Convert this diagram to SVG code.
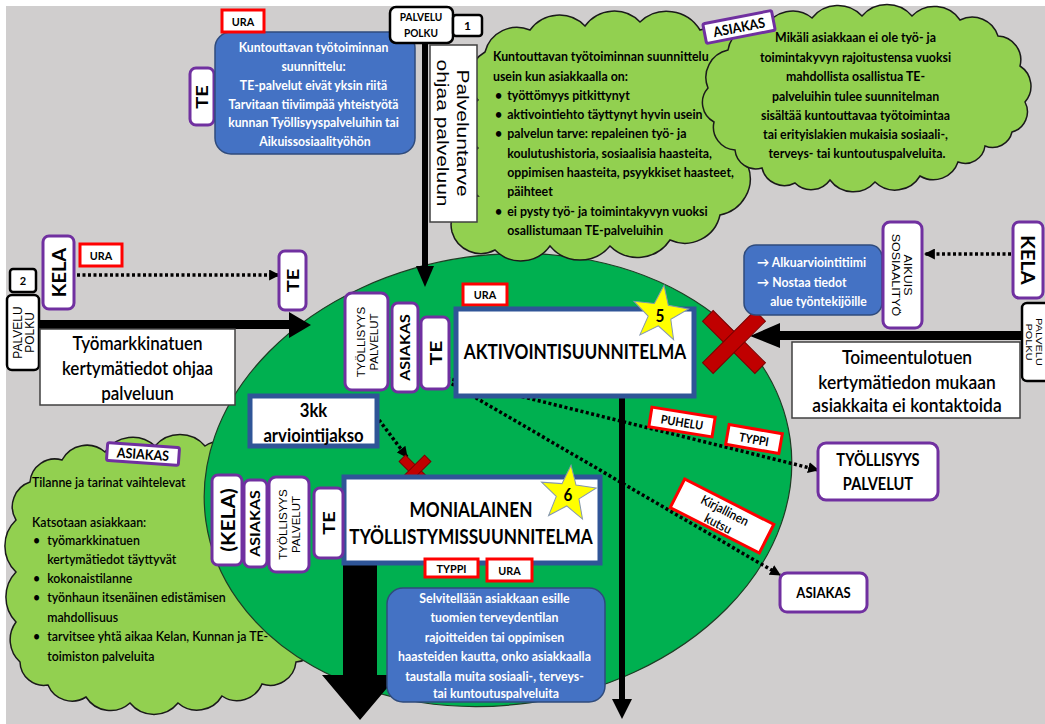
<svg xmlns="http://www.w3.org/2000/svg" width="1045" height="724" viewBox="0 0 1045 724">
<defs>
<style>
.bg{fill:#d0cece}
.cloud{fill:#92d050;stroke:#1a1a1a;stroke-width:1.5}
.ell{fill:#00b050;stroke:#1e3d24;stroke-width:1.2}
.blue{fill:#4472c4;stroke:#2f4b7c;stroke-width:1.5}
.pbox{fill:#fff;stroke:#7030a0;stroke-width:3}
.kbox{fill:#fff;stroke:#000;stroke-width:2.5}
.wbox{fill:#fff;stroke:#404040;stroke-width:1.5}
.tag{fill:#fff;stroke:#ff0000;stroke-width:3}
.plan{fill:#fff;stroke:#2f5597;stroke-width:5}
.f{font-family:Lato,"Liberation Sans",sans-serif;font-weight:700;fill:#000}
.sb{font-weight:600}
.rg{font-weight:400}
.a{font-family:"Liberation Sans",Arial,sans-serif;fill:#000}
.wt{fill:#fff}
.c{text-anchor:middle}
.v{text-anchor:middle;dominant-baseline:central}
.dot{fill:none;stroke:#000;stroke-width:3.5;stroke-dasharray:3 2.5}
.blk{fill:#000}
.x{fill:#c00000;stroke:#7a0000;stroke-width:1}
.star{fill:#ffff00;stroke:#8497b0;stroke-width:1}
</style>
<marker id="ah" viewBox="0 0 10 10" refX="9" refY="5" markerWidth="11" markerHeight="11" markerUnits="userSpaceOnUse" orient="auto"><path d="M0,0 L10,5 L0,10 Z" fill="#000"/></marker>
<polygon id="star" points="0,-29 7.05,-9.71 27.58,-8.96 11.41,3.71 17.05,23.46 0,12 -17.05,23.46 -11.41,3.71 -27.58,-8.96 -7.05,-9.71"/>
</defs>

<g id="background"><rect width="1045" height="724" fill="#fff"/><rect x="6" y="6" width="1039" height="718" class="bg"/></g>

<g id="cloud-left">
<path class="cloud" d="M16,520 A26,26 0 0,1 30,482 A25,25 0 0,1 62,460 A28,28 0 0,1 105,452 A33,33 0 0,1 155,446 A33,33 0 0,1 205,446 A27,27 0 0,1 245,458 A27,27 0 0,1 270,492 A34,34 0 0,1 290,540 A35,35 0 0,1 310,590 A27,27 0 0,1 318,630 A25,25 0 0,1 296,662 A26,26 0 0,1 262,684 A27,27 0 0,1 222,696 A29,29 0 0,1 178,703 A31,31 0 0,1 130,703 A29,29 0 0,1 86,697 A26,26 0 0,1 48,685 A24,24 0 0,1 20,662 A30,30 0 0,1 16,622 A36,36 0 0,1 16,572 A36,36 0 0,1 16,520 Z"/>
</g>

<g id="circle"><ellipse class="ell" cx="498" cy="480" rx="295" ry="225" transform="rotate(-8 498 480)"/></g>

<g id="cloud-center">
<path class="cloud" d="M485,52 A33,33 0 0,1 530,30 A36,36 0 0,1 585,26 A36,36 0 0,1 640,22 A39,39 0 0,1 700,30 A33,33 0 0,1 742,58 A36,36 0 0,1 756,112 A36,36 0 0,1 748,166 A37,37 0 0,1 720,215 A36,36 0 0,1 670,240 A39,39 0 0,1 610,246 A39,39 0 0,1 550,246 A36,36 0 0,1 495,250 A30,30 0 0,1 452,232 A29,29 0 0,1 478,196 A31,31 0 0,1 478,148 A31,31 0 0,1 478,100 A31,31 0 0,1 485,52 Z"/>
<g transform="translate(493 0) scale(0.95 1)"><text class="f" font-size="13">
<tspan x="0" y="61">Kuntouttavan työtoiminnan suunnittelu</tspan>
<tspan x="0" y="81">usein kun asiakkaalla on:</tspan>
<tspan x="2" y="100">•</tspan><tspan x="15" y="100">työttömyys pitkittynyt</tspan>
<tspan x="2" y="119">•</tspan><tspan x="15" y="119">aktivointiehto täyttynyt hyvin usein</tspan>
<tspan x="2" y="138">•</tspan><tspan x="15" y="138">palvelun tarve: repaleinen työ- ja</tspan>
<tspan x="15" y="158">koulutushistoria, sosiaalisia haasteita,</tspan>
<tspan x="15" y="177">oppimisen haasteita, psyykkiset haasteet,</tspan>
<tspan x="15" y="196">päihteet</tspan>
<tspan x="2" y="216">•</tspan><tspan x="15" y="216">ei pysty työ- ja toimintakyvyn vuoksi</tspan>
<tspan x="15" y="235">osallistumaan TE-palveluihin</tspan>
</text></g>
</g>

<g id="cloud-right">
<path class="cloud" d="M708,88 A28,28 0 0,1 728,50 A28,28 0 0,1 765,28 A31,31 0 0,1 812,18 A33,33 0 0,1 862,16 A33,33 0 0,1 912,16 A31,31 0 0,1 960,20 A27,27 0 0,1 998,36 A24,24 0 0,1 1020,66 A24,24 0 0,1 1025,102 A21,21 0 0,1 1012,132 A20,20 0 0,1 985,146 A20,20 0 0,1 958,162 A26,26 0 0,1 920,176 A29,29 0 0,1 875,182 A29,29 0 0,1 830,180 A23,23 0 0,1 795,183 A23,23 0 0,1 762,168 A21,21 0 0,1 735,150 A23,23 0 0,1 714,122 A22,22 0 0,1 708,88 Z"/>
<g transform="translate(857 0) scale(0.95 1)"><text class="f c" font-size="13">
<tspan x="0" y="42">Mikäli asiakkaan ei ole työ- ja</tspan>
<tspan x="0" y="62">toimintakyvyn rajoitustensa vuoksi</tspan>
<tspan x="0" y="81">mahdollista osallistua TE-</tspan>
<tspan x="0" y="101">palveluihin tulee suunnitelman</tspan>
<tspan x="0" y="120">sisältää kuntouttavaa työtoimintaa</tspan>
<tspan x="0" y="139">tai erityislakien mukaisia sosiaali-,</tspan>
<tspan x="0" y="158">terveys- tai kuntoutuspalveluita.</tspan>
</text></g>
</g>

<g id="cloud-left-text">
<g transform="translate(32 0) scale(0.95 1)"><text class="f sb" font-size="13">
<tspan x="0" y="487">Tilanne ja tarinat vaihtelevat</tspan>
<tspan x="0" y="527">Katsotaan asiakkaan:</tspan>
<tspan x="1" y="545">•</tspan><tspan x="16" y="545">työmarkkinatuen</tspan>
<tspan x="16" y="564">kertymätiedot täyttyvät</tspan>
<tspan x="1" y="583">•</tspan><tspan x="16" y="583">kokonaistilanne</tspan>
<tspan x="1" y="602">•</tspan><tspan x="16" y="602">työnhaun itsenäinen edistämisen</tspan>
<tspan x="16" y="622">mahdollisuus</tspan>
<tspan x="1" y="641">•</tspan><tspan x="16" y="641">tarvitsee yhtä aikaa Kelan, Kunnan ja TE-</tspan>
<tspan x="16" y="661">toimiston palveluita</tspan>
</text></g>
</g>

<g id="connectors">
<rect class="blk" x="422" y="43" width="6" height="225"/>
<polygon class="blk" points="416,266 434,266 425,287"/>
<rect class="blk" x="39" y="320" width="252" height="9"/>
<polygon class="blk" points="289,312 289,338 311,325"/>
<rect class="blk" x="778" y="331" width="247" height="9"/>
<polygon class="blk" points="780,323 780,348 750,336"/>
<rect class="blk" x="619" y="398" width="6" height="302"/>
<polygon class="blk" points="612,699 632,699 622,719"/>
<polygon class="blk" points="343,565 377,565 377,675 398,675 360,720 322,675 343,675"/>
<path class="dot" d="M77,275 L279,275" marker-end="url(#ah)"/>
<path class="dot" d="M1011,254 L925,254" marker-end="url(#ah)"/>
<path class="dot" d="M447,378 L818,470" marker-end="url(#ah)"/>
<path class="dot" d="M447,381 L780,575" marker-end="url(#ah)"/>
<path class="dot" d="M379,420 L407,457" marker-end="url(#ah)"/>
</g>

<g id="te-top"><rect class="pbox" x="190" y="68" width="24" height="57" rx="6"/><text class="f v" font-size="20" transform="translate(202 97) scale(0.85 1) rotate(-90)">TE</text></g>
<g id="blue-top"><rect class="blue" x="215" y="32" width="200" height="122" rx="16"/>
<g transform="translate(315 0) scale(0.94 1)"><text class="f wt c" font-size="13">
<tspan x="0" y="52">Kuntouttavan työtoiminnan</tspan>
<tspan x="0" y="71">suunnittelu:</tspan>
<tspan x="0" y="90">TE-palvelut eivät yksin riitä</tspan>
<tspan x="0" y="109">Tarvitaan tiiviimpää yhteistyötä</tspan>
<tspan x="0" y="127">kunnan Työllisyyspalveluihin tai</tspan>
<tspan x="0" y="146">Aikuissosiaalityöhön</tspan>
</text></g></g>
<g id="ura-top"><rect class="tag" x="222" y="10" width="42" height="22"/><text class="f v" font-size="12" transform="translate(243 21) scale(0.9 1)">URA</text></g>

<g id="polku-top"><rect class="kbox" x="390" y="7" width="63" height="36" rx="6"/>
<g transform="translate(421 0) scale(0.92 1)"><text class="f c" font-size="11"><tspan x="0" y="21">PALVELU</tspan><tspan x="0" y="37">POLKU</tspan></text></g></g>
<g id="num-1"><rect class="kbox" x="453" y="15" width="29" height="21" rx="3"/><text class="f v" font-size="12" x="467.5" y="25.5">1</text></g>
<g id="palveluntarve"><rect class="wbox" x="430" y="45" width="47" height="177" stroke="#000"/>
<text class="a v" font-size="21" transform="translate(463 133) scale(0.75 1) rotate(90)">Palveluntarve</text>
<text class="a v" font-size="21" transform="translate(443 133) scale(0.75 1) rotate(90)">ohjaa palveluun</text></g>

<g id="asiakas-tag-top" transform="translate(739 27) rotate(-11)"><rect class="pbox" x="-35" y="-10" width="70" height="20" rx="2"/><text class="f v" font-size="14" transform="scale(0.9 1)">ASIAKAS</text></g>

<g id="kela-left"><rect class="pbox" x="43" y="236" width="31" height="73" rx="6"/><text class="f v" font-size="20" transform="translate(58.5 272.5) scale(0.9 1) rotate(-90)">KELA</text></g>
<g id="ura-left"><rect class="tag" x="80" y="244" width="42" height="22"/><text class="f v" font-size="12" transform="translate(101 255) scale(0.9 1)">URA</text></g>
<g id="te-left"><rect class="pbox" x="279" y="251" width="27" height="59" rx="6"/><text class="f v" font-size="20" transform="translate(292.5 280.5) scale(0.85 1) rotate(-90)">TE</text></g>
<g id="num-2"><rect class="kbox" x="10" y="269" width="26" height="23" rx="3"/><text class="f v" font-size="11" x="23" y="280.5">2</text></g>
<g id="polku-left"><rect class="kbox" x="7" y="295" width="32" height="75" rx="5"/>
<text class="a v" font-size="12" transform="translate(18 332.5) rotate(-90)">PALVELU</text>
<text class="a v" font-size="12" transform="translate(30 332.5) rotate(-90)">POLKU</text></g>
<g id="tyomarkkinatuen"><rect class="wbox" x="40" y="329" width="195" height="76"/>
<g transform="translate(137.5 0) scale(0.85 1)"><text class="f sb c" font-size="20"><tspan x="0" y="350">Työmarkkinatuen</tspan><tspan x="0" y="375">kertymätiedot ohjaa</tspan><tspan x="0" y="400">palveluun</tspan></text></g></g>

<g id="tyollisyys-center"><rect class="pbox" x="345" y="293" width="43" height="97" rx="7"/>
<text class="a v" font-size="11.5" transform="translate(361 342) scale(0.9 1) rotate(-90)">TYÖLLISYYS</text>
<text class="a v" font-size="11.5" transform="translate(374 342) scale(0.9 1) rotate(-90)">PALVELUT</text></g>
<g id="asiakas-center"><rect class="pbox" x="392" y="303" width="26" height="89" rx="6"/><text class="f v" font-size="16" transform="translate(405 347.5) scale(0.85 1) rotate(-90)">ASIAKAS</text></g>
<g id="te-center"><rect class="pbox" x="421" y="317" width="28" height="72" rx="6"/><text class="f v" font-size="21" transform="translate(435 353) scale(0.85 1) rotate(-90)">TE</text></g>
<g id="ura-center"><rect class="tag" x="463" y="284" width="44" height="21"/><text class="f v" font-size="12" transform="translate(485 294.5) scale(0.9 1)">URA</text></g>
<g id="aktivointi"><rect class="plan" x="456" y="309" width="238" height="87"/><text class="f c" font-size="20.5" transform="translate(575 359) scale(0.84 1)">AKTIVOINTISUUNNITELMA</text></g>
<g id="star-5"><use href="#star" class="star" transform="translate(660 314) rotate(8)"/><text class="f v" font-size="17" transform="translate(660 315) scale(0.9 1)">5</text></g>

<g id="x-big" transform="translate(734 342)"><rect class="x" x="-37" y="-7.5" width="74" height="15" transform="rotate(45)"/><rect class="x" x="-37" y="-7.5" width="74" height="15" transform="rotate(-45)"/></g>

<g id="arviointijakso"><rect class="plan" x="250" y="396" width="127" height="50"/>
<g transform="translate(313.5 0) scale(0.88 1)"><text class="f c" font-size="19"><tspan x="0" y="417">3kk</tspan><tspan x="0" y="442">arviointijakso</tspan></text></g></g>
<g id="x-small" transform="translate(415 471)"><rect class="x" x="-18" y="-4.5" width="36" height="9" transform="rotate(45)"/><rect class="x" x="-18" y="-4.5" width="36" height="9" transform="rotate(-45)"/></g>

<g id="monialainen"><rect class="plan" x="344" y="477" width="256" height="86"/>
<g transform="translate(471 0) scale(0.82 1)"><text class="f c" font-size="21"><tspan x="0" y="517">MONIALAINEN</tspan><tspan x="0" y="544">TYÖLLISTYMISSUUNNITELMA</tspan></text></g></g>
<g id="star-6"><use href="#star" class="star" transform="translate(568 494) rotate(6)"/><text class="f v" font-size="17" transform="translate(568 494) scale(0.9 1)">6</text></g>
<g id="kela-lower"><rect class="pbox" x="212" y="475" width="30" height="90" rx="6"/><text class="f v" font-size="21" transform="translate(227 520) scale(0.9 1) rotate(-90)">(KELA)</text></g>
<g id="asiakas-lower"><rect class="pbox" x="244" y="480" width="23" height="87" rx="6"/><text class="f v" font-size="16" transform="translate(255.5 523.5) scale(0.8 1) rotate(-90)">ASIAKAS</text></g>
<g id="tyollisyys-lower"><rect class="pbox" x="269" y="477" width="40" height="95" rx="7"/>
<text class="a v" font-size="11.5" transform="translate(283 524.5) scale(0.9 1) rotate(-90)">TYÖLLISYYS</text>
<text class="a v" font-size="11.5" transform="translate(296 524.5) scale(0.9 1) rotate(-90)">PALVELUT</text></g>
<g id="te-lower"><rect class="pbox" x="314" y="488" width="29" height="70" rx="6"/><text class="f v" font-size="20" transform="translate(328.5 523) scale(0.85 1) rotate(-90)">TE</text></g>
<g id="typpi-lower"><rect class="tag" x="425" y="559" width="53" height="18"/><text class="f v" font-size="12" transform="translate(451.5 568) scale(0.9 1)">TYPPI</text></g>
<g id="ura-lower"><rect class="tag" x="487" y="559" width="45" height="22"/><text class="f v" font-size="12" transform="translate(509.5 570) scale(0.9 1)">URA</text></g>
<g id="blue-bottom"><rect class="blue" x="387" y="588" width="218" height="114" rx="16"/>
<g transform="translate(496 0) scale(0.95 1)"><text class="f wt c" font-size="13">
<tspan x="0" y="603">Selvitellään asiakkaan esille</tspan>
<tspan x="0" y="622">tuomien terveydentilan</tspan>
<tspan x="0" y="642">rajoitteiden tai oppimisen</tspan>
<tspan x="0" y="661">haasteiden kautta, onko asiakkaalla</tspan>
<tspan x="0" y="681">taustalla muita sosiaali-, terveys-</tspan>
<tspan x="0" y="698">tai kuntoutuspalveluita</tspan>
</text></g></g>

<g id="asiakas-tag-left" transform="translate(143 454) rotate(4)"><rect class="pbox" x="-36" y="-9" width="72" height="18" rx="2"/><text class="f v" font-size="14" transform="scale(0.9 1)">ASIAKAS</text></g>

<g id="blue-right"><rect class="blue" x="744" y="245" width="138" height="70" rx="12"/>
<g transform="translate(757 0) scale(0.94 1)"><text class="f wt" font-size="13"><tspan x="0" y="267">→ Alkuarviointitiimi</tspan><tspan x="0" y="287">→ Nostaa  tiedot</tspan><tspan x="14" y="306">alue työntekijöille</tspan></text></g></g>
<g id="aikuissosiaalityo"><rect class="pbox" x="883" y="222" width="39" height="106" rx="7"/>
<text class="a v" font-size="12.5" transform="translate(908 275) scale(0.8 1) rotate(90)">AIKUIS</text>
<text class="a v" font-size="12.5" transform="translate(896 275) scale(0.8 1) rotate(90)">SOSIAALITYÖ</text></g>
<g id="kela-right"><rect class="pbox" x="1013" y="222" width="30" height="76" rx="6"/><text class="f v" font-size="20" transform="translate(1028 260) scale(0.9 1) rotate(90)">KELA</text></g>
<g id="polku-right"><rect class="kbox" x="1022" y="303" width="30" height="78" rx="5"/>
<text class="a v" font-size="11" transform="translate(1039.5 342) scale(0.85 1) rotate(90)">PALVELU</text>
<text class="a v" font-size="11" transform="translate(1029.5 342) scale(0.85 1) rotate(90)">POLKU</text></g>
<g id="toimeentulotuen"><rect class="wbox" x="792" y="342" width="228" height="76"/>
<g transform="translate(907 0) scale(0.87 1)"><text class="f sb c" font-size="20"><tspan x="0" y="364">Toimeentulotuen</tspan><tspan x="0" y="389">kertymätiedon mukaan</tspan><tspan x="0" y="412">asiakkaita ei kontaktoida</tspan></text></g></g>

<g id="puhelu" transform="translate(682 422) rotate(9)"><rect class="tag" x="-32" y="-10" width="64" height="20"/><text class="f v" font-size="12" transform="scale(0.9 1)">PUHELU</text></g>
<g id="typpi-right" transform="translate(754 439) rotate(10)"><rect class="tag" x="-27" y="-10" width="54" height="20"/><text class="f v" font-size="12" transform="scale(0.9 1)">TYPPI</text></g>
<g id="kirjallinen" transform="translate(722 516) rotate(27)"><rect class="tag" x="-50" y="-16" width="100" height="32"/><text class="f sb v" font-size="13" transform="scale(0.9 1)"><tspan x="0" y="-7">Kirjallinen</tspan><tspan x="0" y="8">kutsu</tspan></text></g>
<g id="tyollisyys-right"><rect class="pbox" x="818" y="443" width="120" height="57" rx="8"/>
<g transform="translate(878 0) scale(0.86 1)"><text class="f c" font-size="17"><tspan x="0" y="466">TYÖLLISYYS</tspan><tspan x="0" y="490">PALVELUT</tspan></text></g></g>
<g id="asiakas-right"><rect class="pbox" x="780" y="573" width="87" height="39" rx="7"/><text class="f v" font-size="15" transform="translate(823.5 592.5) scale(0.87 1)">ASIAKAS</text></g>
</svg>
